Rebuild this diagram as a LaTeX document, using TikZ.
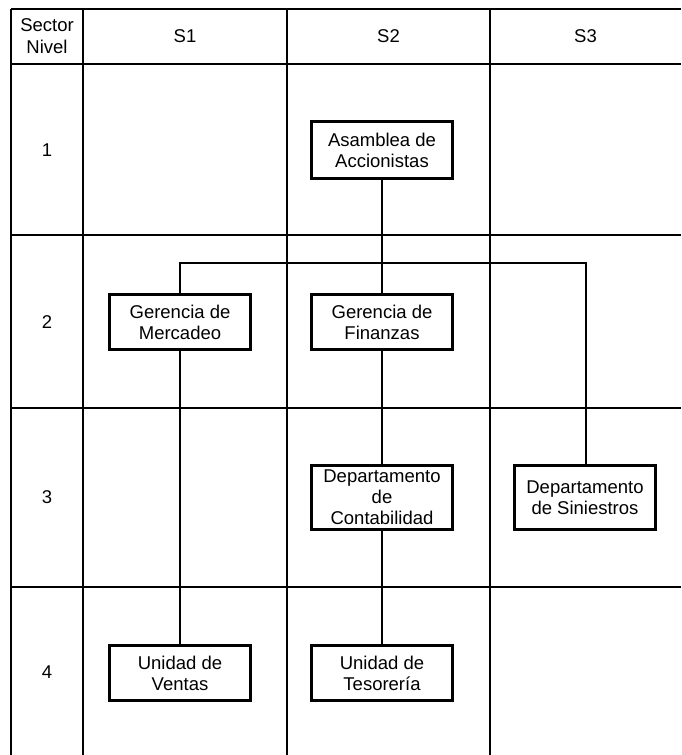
\documentclass[tikz,border=0pt]{standalone}
\usepackage{fontspec}
\setmainfont{Liberation Sans}
\begin{document}
\begin{tikzpicture}[x=1pt,y=-1pt,
  grid/.style={line width=1.7pt},
  orgbox/.style={draw,line width=2.8pt,fill=white,align=center,minimum width=141pt,inner sep=1pt,
    font=\fontsize{18.5}{21}\selectfont},
  conn/.style={line width=2.8pt},
  lbl/.style={align=center,font=\fontsize{18.5}{22}\selectfont}]
\useasboundingbox (0,0) rectangle (681,755);
% grid
\foreach \yy in {9,64,235,408,587} \draw[grid] (11,\yy) -- (681,\yy);
\foreach \xx in {11,83,287,490} \draw[grid] (\xx,9) -- (\xx,755);
% header
\node[lbl] (hsn) at (47,36) {Sector\\Nivel};
\node[lbl] (hs1) at (185,36) {S1};
\node[lbl] (hs2) at (388.5,36) {S2};
\node[lbl] (hs3) at (585.5,36) {S3};
\node[lbl] (r1) at (47,150) {1};
\node[lbl] (r2) at (47,322) {2};
\node[lbl] (r3) at (47,497.5) {3};
\node[lbl] (r4) at (47,672) {4};
% connectors
\coordinate (busL) at (180,263);
\coordinate (busR) at (586,263);
\coordinate (busM) at (382,263);
\draw[conn] (382,150) -- (busM);
\draw[conn] (180,322) -- (busL) -- (busR) -- (586,497.5);
\draw[conn] (busM) -- (382,322);
\draw[conn] (180,322) -- (180,673);
\draw[conn] (382,322) -- (382,673);
% boxes
\node[orgbox,minimum height=57pt] (asam) at (382,150) {Asamblea de\\Accionistas};
\node[orgbox,minimum height=55.5pt] (merc) at (180,322) {Gerencia de\\Mercadeo};
\node[orgbox,minimum height=55.5pt] (fin) at (382,322) {Gerencia de\\Finanzas};
\node[orgbox,minimum height=64.5pt] (cont) at (382,497.5) {Departamento\\de\\Contabilidad};
\node[orgbox,minimum height=64.5pt] (sini) at (585,497.5) {Departamento\\de Siniestros};
\node[orgbox,minimum height=55.5pt] (vent) at (180,673) {Unidad de\\Ventas};
\node[orgbox,minimum height=55.5pt] (tes) at (382,673) {Unidad de\\Tesorería};
\end{tikzpicture}
\end{document}
